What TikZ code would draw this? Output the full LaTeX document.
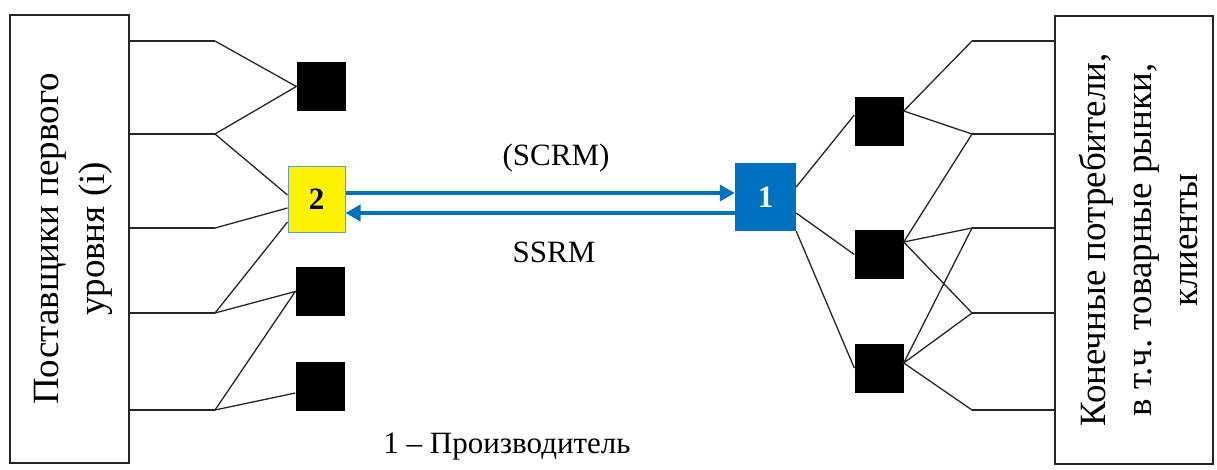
\documentclass[tikz,border=0pt]{standalone}
\usepackage{fontspec}
\setmainfont{Liberation Serif}
\frenchspacing
\usetikzlibrary{arrows.meta,calc}
\definecolor{mainBlue}{HTML}{0070C0}
\definecolor{edgeBlue}{HTML}{5B9BD5}
\tikzstyle{sidebox} = [rectangle, draw=black!85, line width=2pt, minimum height=448pt, inner sep=0pt]
\tikzstyle{sidetext} = [font=\fontsize{37}{46}\selectfont, align=center, rotate=90]
\tikzstyle{blk} = [rectangle, fill=black, minimum width=49pt, minimum height=49pt, inner sep=0pt]
\tikzstyle{lbl} = [font=\fontsize{31}{40}\selectfont, align=center]
\tikzstyle{link} = [draw=black!85, line width=1.3pt]
\tikzstyle{flow} = [draw=mainBlue, line width=4pt, -{Triangle[length=15pt,width=16pt]}]

\begin{document}
\begin{tikzpicture}[x=1pt, y=-1pt]
        \useasboundingbox (0,0) rectangle (1217,469);

        % outer boxes
        \node (suppliers) [sidebox, minimum width=119pt] at (69.5,239) {};
        \node [sidetext] at ($(suppliers.center)+(4,0)$) {Поставщики первого\\уровня (i)};
        \node (clients) [sidebox, minimum width=158pt] at (1134,240) {};
        \node [sidetext] at ($(clients.center)+(4,0)$) {Конечные потребители,\\в т.ч. товарные рынки,\\клиенты};

        % first-tier suppliers
        \node (supA) [blk] at (321,86.5) {};
        \node (supTwo) [rectangle, fill=yellow, draw=edgeBlue, line width=1pt, minimum width=57pt, minimum height=66pt, lbl] at (316.5,199) {\textbf{2}};
        \node (supB) [blk] at (320,291.5) {};
        \node (supC) [blk] at (320,386.5) {};

        % producer and its outlets
        \node (producer) [rectangle, fill=mainBlue, minimum width=61pt, minimum height=68pt, text=white, lbl] at (765.5,197) {\textbf{1}};
        \node (outD) [blk] at (879,121.5) {};
        \node (outE) [blk] at (879,254.5) {};
        \node (outF) [blk] at (879,368) {};

        \foreach \i/\yy in {1/41,2/134,3/228,4/313,5/410} {
            \coordinate (jl\i) at (215,\yy);
            \coordinate (jr\i) at (972,\yy);
            \path [link] (suppliers.east |- jl\i) -- (jl\i);
            \path [link] (jr\i) -- (clients.west |- jr\i);
        }

        % left fan
        \path [link] (jl1) -- (supA.west) -- (jl2);
        \path [link] (jl2) -- ([yshift=4pt]supTwo.west);
        \path [link] (jl3) -- ([yshift=-9pt]supTwo.west);
        \path [link] (jl4) -- ([yshift=-23pt]supTwo.west);
        \path [link] (jl4) -- (supB.west) -- (jl5);
        \path [link] (jl5) -- ([yshift=-6.5pt]supC.west);

        % right fan
        \path [link] ([yshift=10pt]producer.east) -- ([yshift=6.5pt]outD.west);
        \path [link] ([yshift=-16pt]producer.east) -- (outE.west);
        \path [link] (producer.south east) -- (outF.west);
        \path [link] (jr1) -- ([yshift=10.5pt]outD.east) -- (jr2);
        \path [link] (jr2) -- ([yshift=12.5pt]outE.east) -- (jr3);
        \path [link] ([yshift=12.5pt]outE.east) -- (jr4);
        \path [link] (jr3) -- ([yshift=5pt]outF.east) -- (jr4);
        \path [link] ([yshift=5pt]outF.east) -- (jr5);

        % flows between 2 and 1
        \path [flow] ([yshift=6pt]supTwo.east) -- ([yshift=6pt]supTwo.east -| producer.west);
        \path [flow] ([yshift=-14pt]supTwo.east -| producer.west) -- ([yshift=-14pt]supTwo.east);
        \node (scrmLbl) [lbl] at (556,158) {(SCRM)};
        \node (ssrmLbl) [lbl] at (554,252) {SSRM};

        \node (legend) [lbl] at (507,447) {1 – Производитель};
    \end{tikzpicture}
\end{document}
